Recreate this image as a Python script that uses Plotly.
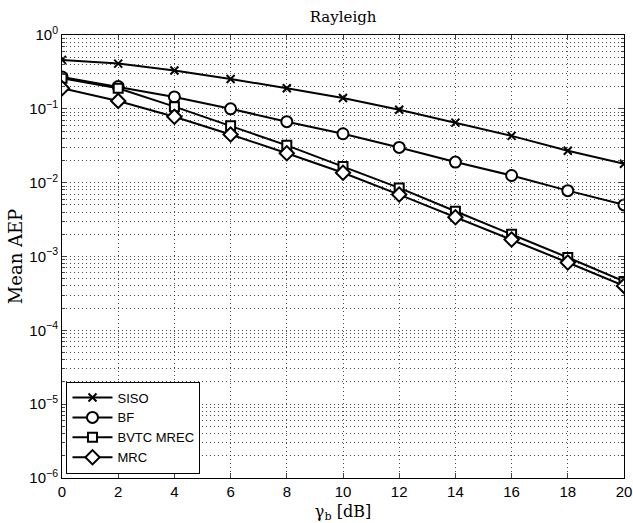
import plotly.graph_objects as go

x_db = [0, 2, 4, 6, 8, 10, 12, 14, 16, 18, 20]
siso = [0.46, 0.41, 0.33, 0.254, 0.19, 0.14, 0.097, 0.065, 0.043, 0.027, 0.018]
bf = [0.27, 0.20, 0.145, 0.10, 0.067, 0.046, 0.030, 0.019, 0.0125, 0.0078, 0.005]
bvtc = [0.26, 0.19, 0.107, 0.059, 0.032, 0.0165, 0.0085, 0.0041, 0.002, 0.00097, 0.00046]
mrc = [0.19, 0.128, 0.078, 0.045, 0.025, 0.0136, 0.0069, 0.0034, 0.0017, 0.00083, 0.0004]

series_names = ["SISO", "BF", "BVTC MREC", "MRC"]
series_vals = [siso, bf, bvtc, mrc]
symbols = ["x-thin", "circle", "square", "diamond"]
sizes = [8, 11, 9, 11]

ytick_vals = [1, 1e-1, 1e-2, 1e-3, 1e-4, 1e-5, 1e-6]
ytick_text = ["10<sup>0</sup>", "10<sup>−1</sup>", "10<sup>−2</sup>", "10<sup>−3</sup>",
              "10<sup>−4</sup>", "10<sup>−5</sup>", "10<sup>−6</sup>"]
xtick_vals = x_db

fig = go.Figure()
for name, vals, sym, sz in zip(series_names, series_vals, symbols, sizes):
    fig.add_trace(go.Scatter(
        x=x_db, y=vals, name=name, mode="lines+markers",
        line=dict(color="black", width=2),
        marker=dict(symbol=sym, size=sz, color="white" if sym != "x-thin" else "black",
                    line=dict(color="black", width=2)),
    ))

grid = "rgba(0,0,0,0.7)"
gdash = "1px,3px"
fig.update_layout(
    width=633, height=523,
    margin=dict(l=62, r=9, t=35, b=45),
    paper_bgcolor="white", plot_bgcolor="white",
    title=dict(text="Rayleigh", x=0.542, xanchor="center", y=0.968, yanchor="middle",
               font=dict(family="DejaVu Serif, serif", size=15, color="black")),
    font=dict(family="Liberation Sans, Arial, sans-serif", size=15, color="black"),
    showlegend=True,
    legend=dict(x=0.008, y=0.01, xanchor="left", yanchor="bottom",
                bgcolor="white", bordercolor="black", borderwidth=1,
                font=dict(size=13), tracegroupgap=0, itemwidth=40),
    xaxis=dict(range=[0, 20], tickvals=xtick_vals, ticks="inside", ticklen=5,
               automargin=False,
               showline=True, linecolor="black", linewidth=1, mirror="ticks",
               showgrid=True, gridcolor=grid, griddash=gdash, gridwidth=1,
               zeroline=False, tickfont=dict(size=15),
               title=dict(text="γ<sub>b</sub> [dB]", standoff=6,
                          font=dict(family="DejaVu Serif, serif", size=16))),
    yaxis=dict(type="log", range=[-6, 0], tickvals=ytick_vals, ticktext=ytick_text,
               ticks="inside", ticklen=5, automargin=False,
               showline=True, linecolor="black", linewidth=1, mirror="ticks",
               showgrid=True, gridcolor=grid, griddash=gdash, gridwidth=1,
               zeroline=False, tickfont=dict(size=15),
               minor=dict(ticks="inside", ticklen=3, showgrid=True, gridcolor=grid,
                          griddash=gdash, gridwidth=1,
                          tickvals=[m * 10 ** e for e in range(-6, 0) for m in range(2, 10)]),
               title=dict(text="Mean AEP", standoff=2,
                          font=dict(family="DejaVu Serif, serif", size=18))),
)

fig.write_html("out.html")
